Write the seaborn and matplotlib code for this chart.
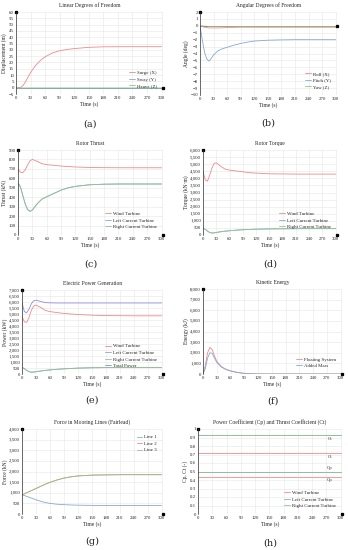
import numpy as np
import pandas as pd
import matplotlib
matplotlib.use("Agg")
import matplotlib.pyplot as plt
import matplotlib.ticker as mticker
import seaborn as sns

sns.set_style("white")
plt.rcParams["font.family"] = ["Liberation Serif", "DejaVu Serif"]

W, H = 348, 550

red = "#f08a8a"
blue = "#86a9d4"
green = "#94c28e"
purple = "#8f8fd6"

# time samples
t = [0, 5, 10, 15, 20, 25, 30, 40, 50, 60, 75, 90, 105, 120, 150, 180, 210, 240, 270, 300]

# (a) linear DOF (m)
surge = [0, 0, 0.3, 2, 5, 8.5, 12, 17.5, 21.5, 24.5, 27.5, 29.3, 30.3, 31, 32, 32.4, 32.5, 32.5, 32.5, 32.5]
sway = [0, 0, 0, 0, 0, 0, 0, 0, 0, 0, 0, 0, 0, 0, 0, 0, 0, 0, 0, 0]
heave = [0, -0.1, -0.2, -0.2, -0.2, -0.2, -0.2, -0.2, -0.2, -0.2, -0.2, -0.2, -0.2, -0.2, -0.2, -0.2, -0.2, -0.2, -0.2, -0.2]

# (b) angular DOF (deg)
roll = [0, -0.1, -0.2, -0.25, -0.3, -0.3, -0.3, -0.3, -0.28, -0.25, -0.22, -0.2, -0.2, -0.2, -0.2, -0.2, -0.2, -0.2, -0.2, -0.2]
pitch = [0, -2, -3.8, -4.8, -5.1, -4.7, -4.2, -3.6, -3.3, -3.1, -2.8, -2.55, -2.35, -2.2, -2.08, -2.03, -2.0, -2.0, -2.0, -2.0]
yaw = [0, 0, -0.05, -0.05, -0.1, -0.1, -0.1, -0.1, -0.1, -0.1, -0.1, -0.1, -0.1, -0.1, -0.1, -0.1, -0.1, -0.1, -0.1, -0.1]

# (c) rotor thrust (kN)
thrust_wind = [700, 665, 660, 690, 740, 785, 800, 780, 755, 745, 738, 730, 725, 720, 715, 713, 712, 712, 712, 712]
thrust_cur = [550, 510, 420, 330, 270, 250, 265, 330, 380, 405, 440, 475, 500, 515, 532, 538, 540, 540, 540, 540]

# (d) rotor torque (kN m)
torque_wind = [4500, 3900, 3800, 4200, 4700, 5050, 5100, 4850, 4650, 4580, 4520, 4460, 4400, 4370, 4320, 4310, 4300, 4300, 4300, 4300]
torque_cur = [500, 400, 280, 180, 140, 150, 180, 230, 270, 300, 340, 370, 390, 410, 430, 440, 445, 450, 450, 450]

# (e) electric power (kW)
power_wind = [4800, 4350, 4300, 4700, 5300, 5650, 5750, 5550, 5300, 5200, 5120, 5050, 5000, 4960, 4900, 4870, 4860, 4850, 4850, 4850]
power_cur = [550, 450, 300, 200, 150, 160, 190, 250, 300, 340, 390, 430, 460, 490, 520, 535, 540, 540, 540, 540]
power_total = [5950, 5200, 5100, 5400, 5850, 6100, 6150, 6050, 5950, 5930, 5920, 5920, 5920, 5920, 5920, 5920, 5920, 5920, 5920, 5920]

# (f) kinetic energy (kJ)
ke_float = [0, 800, 2000, 2500, 2300, 1700, 1200, 700, 450, 300, 150, 60, 20, 5, 0, 0, 0, 0, 0, 0]
ke_added = [0, 500, 1500, 2000, 1950, 1500, 1100, 650, 420, 280, 140, 55, 20, 5, 0, 0, 0, 0, 0, 0]

# (g) fairlead forces (kN)
line1 = [900, 870, 830, 790, 750, 710, 670, 600, 540, 500, 460, 440, 425, 415, 405, 400, 400, 400, 400, 400]
line23 = [900, 950, 1000, 1050, 1100, 1150, 1200, 1300, 1400, 1490, 1600, 1690, 1750, 1790, 1830, 1840, 1850, 1850, 1850, 1850]

# (h) coefficients
ct_wind, cp_wind = 0.72, 0.44
ct_cur, cp_cur = 0.93, 0.50


def make_ax(l, tp, r, b):
    return fig.add_axes([l / W, 1 - b / H, (r - l) / W, (b - tp) / H])


def style(ax, title, ylabel, ylim, ystep, caption, cap_y, comma=True, xaxis_y=None):
    ax.set_xlim(0, 303)
    ax.set_ylim(*ylim)
    ax.set_xticks(range(0, 301, 30))
    ax.set_yticks(np.arange(ylim[0], ylim[1] + ystep / 2, ystep))
    if comma:
        ax.yaxis.set_major_formatter(mticker.FuncFormatter(lambda v, p: f"{v:,.0f}"))
    ax.grid(True, color="#e6e6e6", lw=0.4)
    for s in ["top", "right", "bottom"]:
        ax.spines[s].set_visible(False)
    ax.spines["left"].set_color("#333333")
    ax.spines["left"].set_linewidth(0.5)
    y0 = ylim[0] if xaxis_y is None else xaxis_y
    ax.axhline(y0, color="#333333", lw=0.5, zorder=1)
    ax.plot(0, 1, marker="s", color="black", ms=1.4, transform=ax.transAxes, clip_on=False)
    ax.plot(303, y0, marker="s", color="black", ms=1.4, clip_on=False)
    ax.tick_params(length=0, labelsize=3.5, pad=1.5)
    ax.set_title(title, fontsize=4, pad=3.5)
    ax.set_xlabel("Time (s)", fontsize=4, labelpad=1)
    ax.set_ylabel(ylabel, fontsize=4, labelpad=1)
    pos = ax.get_position()
    fig.text(pos.x0 + pos.width / 2, 1 - cap_y / H, caption, ha="center", va="center",
             fontsize=7, family=["DejaVu Serif"])


def draw(ax, series, legend_loc="lower right"):
    for name, vals, col in series:
        sns.lineplot(x=t, y=vals, ax=ax, color=col, lw=0.6, label=name)
    ax.legend(loc=legend_loc, frameon=False, fontsize=3.5, handlelength=1.2,
              handletextpad=0.4, labelspacing=0.45, borderaxespad=0.8)


fig = plt.figure(figsize=(W / 100, H / 100), dpi=100)

ax = make_ax(16, 12, 163, 94)
draw(ax, [("Surge (X)", surge, red), ("Sway (Y)", sway, blue), ("Heave (Z)", heave, green)])
style(ax, "Linear Degrees of Freedom", "Displacement (m)", (-5, 60), 5, "(a)", 124, comma=False, xaxis_y=0)

ax = make_ax(200, 12, 337, 95)
draw(ax, [("Roll (X)", roll, red), ("Pitch (Y)", pitch, blue), ("Yaw (Z)", yaw, green)])
style(ax, "Angular Degrees of Freedom", "Angle (deg)", (-10, 2), 1, "(b)", 123, comma=False, xaxis_y=0)

ax = make_ax(18, 150, 163, 235)
draw(ax, [("Wind Turbine", thrust_wind, red), ("Left Current Turbine", thrust_cur, blue),
          ("Right Current Turbine", thrust_cur, green)])
style(ax, "Rotor Thrust", "Thrust (kN)", (0, 900), 100, "(c)", 264, comma=False)

ax = make_ax(203, 150, 337, 235)
draw(ax, [("Wind Turbine", torque_wind, red), ("Left Current Turbine", torque_cur, blue),
          ("Right Current Turbine", torque_cur, green)])
style(ax, "Rotor Torque", "Torque (kN·m)", (0, 6000), 500, "(d)", 264)

ax = make_ax(22, 290, 163, 374)
draw(ax, [("Wind Turbine", power_wind, red), ("Left Current Turbine", power_cur, blue),
          ("Right Current Turbine", power_cur, green), ("Total Power", power_total, purple)])
style(ax, "Electric Power Generation", "Power (kW)", (0, 7000), 500, "(e)", 400)

ax = make_ax(203, 289, 342, 374)
draw(ax, [("Floating System", ke_float, red), ("Added Mass", ke_added, blue)])
style(ax, "Kinetic Energy", "Energy (kJ)", (0, 8000), 1000, "(f)", 401)

ax = make_ax(22, 429, 163, 514)
draw(ax, [("Line 1", line1, blue), ("Line 2", line23, red), ("Line 3", line23, green)],
     legend_loc="upper right")
style(ax, "Force in Mooring Lines (Fairlead)", "Force (kN)", (0, 4000), 500, "(g)", 541)

ax = make_ax(198, 429, 342, 514)
draw(ax, [("Wind Turbine", [ct_wind] * len(t), red), ("Left Current Turbine", [ct_cur] * len(t), blue),
          ("Right Current Turbine", [ct_cur] * len(t), green)])
sns.lineplot(x=t, y=[cp_wind] * len(t), ax=ax, color=red, lw=0.6, legend=False)
sns.lineplot(x=t, y=[cp_cur] * len(t), ax=ax, color=blue, lw=0.6, legend=False)
sns.lineplot(x=t, y=[cp_cur] * len(t), ax=ax, color=green, lw=0.6, legend=False)
for yv, lab in [(ct_cur - 0.045, "Ct"), (ct_wind - 0.045, "Ct"), (cp_cur + 0.045, "Cp"), (cp_wind - 0.045, "Cp")]:
    ax.text(277, yv, lab, fontsize=3.5, ha="center", va="center")
style(ax, "Power Coefficient (Cp) and Thrust Coefficient (Ct)", "Cp, Ct (-)", (0, 1), 0.1, "(h)", 543,
      comma=False)
ax.yaxis.set_major_formatter(mticker.FuncFormatter(lambda v, p: f"{v:g}"))

fig.savefig("out.png", dpi=100)
